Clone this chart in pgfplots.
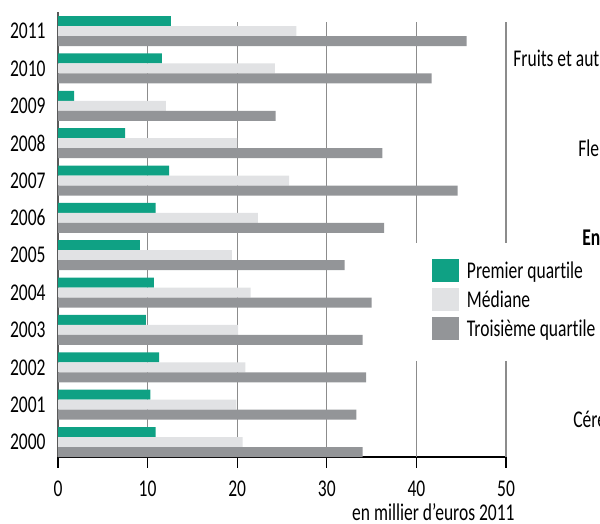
\documentclass[border=0pt]{standalone}
\usepackage{pgfplots}
\usepackage{pgfplotstable}
\pgfplotsset{compat=1.18}
\usepackage{fontspec}
\setmainfont[FakeStretch=0.73, Ligatures=NoCommon]{Carlito}

\definecolor{vert}{HTML}{0FA184}
\definecolor{gclair}{HTML}{E1E2E4}
\definecolor{gfonce}{HTML}{939598}
\definecolor{grille}{HTML}{8C8C8C}

% revenus par annee (milliers d'euros 2011)
\pgfplotstableread{
annee q1    med   q3
2000  10.9  20.6  34.0
2001  10.3  19.9  33.3
2002  11.3  20.9  34.4
2003  9.8   20.1  34.0
2004  10.7  21.5  35.0
2005  9.15  19.4  32.0
2006  10.9  22.3  36.4
2007  12.4  25.8  44.6
2008  7.5   20.0  36.2
2009  1.8   12.05 24.3
2010  11.6  24.2  41.7
2011  12.6  26.6  45.6
}\revenus

\begin{document}
\fontsize{12}{14}\selectfont
\begin{tikzpicture}
\useasboundingbox (0,0) rectangle (300pt,262pt);
\clip (0,0) rectangle (300pt,262pt);
\begin{axis}[
  at={(29pt,33.5pt)}, anchor=south west,
  scale only axis, width=224pt, height=222.5pt,
  xbar, bar width=5pt,
  xmin=0, xmax=50, ymin=1999.6, ymax=2011.51,
  axis x line=bottom, axis y line=left,
  x axis line style={-, black, line width=0.6pt},
  y axis line style={-, black!65, line width=0.6pt},
  xtick={0,10,...,50}, ytick={2000,2001,...,2011},
  tick align=outside, major tick length=5.5pt,
  x tick style={black, line width=0.6pt},
  y tick style={draw=none},
  /pgf/number format/assume math mode=true,
  y tick label style={/pgf/number format/1000 sep={}, inner sep=0pt, anchor=east, xshift=-0.5pt},
  x tick label style={inner sep=0pt, anchor=north, yshift=-6.5pt},
  xlabel={en millier d’euros 2011},
  xlabel style={at={(axis description cs:1.0201,-0.1438)}, anchor=base east, inner sep=0pt},
  legend style={at={(axis description cs:0.8348,0.4449)}, anchor=north west,
    draw=none, fill=none, inner sep=0pt, outer sep=0pt, row sep=3pt,
    cells={anchor=west}, nodes={inner sep=0pt, text height=7.7pt, text depth=0pt},
    /tikz/every odd column/.style={column sep=4pt}},
  legend image code/.code={\fill[#1] (0pt,-5.75pt) rectangle (13.5pt,5.75pt);},
  legend cell align=left,
  clip=false,
]
\draw[grille, line width=0.6pt] (axis cs:10,2011.24) -- (axis cs:10,1999.6);
\draw[grille, line width=0.6pt] (axis cs:20,2011.24) -- (axis cs:20,1999.6);
\draw[grille, line width=0.6pt] (axis cs:30,2011.24) -- (axis cs:30,1999.6);
\draw[grille, line width=0.6pt] (axis cs:40,2011.24) -- (axis cs:40,2005.33);
\draw[grille, line width=0.6pt] (axis cs:40,2002.17) -- (axis cs:40,1999.6);
\draw[grille, line width=0.6pt] (axis cs:50,2011.24) -- (axis cs:50,2005.33);
\draw[grille, line width=0.6pt] (axis cs:50,2002.17) -- (axis cs:50,1999.6);
\addplot[fill=vert, draw=none, bar shift=5pt] table[x=q1, y=annee] {\revenus};
\addplot[fill=gclair, draw=none, bar shift=0pt] table[x=med, y=annee] {\revenus};
\addplot[fill=gfonce, draw=none, bar shift=-5pt] table[x=q3, y=annee] {\revenus};
\legend{Premier quartile, Médiane, Troisième quartile}
\end{axis}
\node[anchor=base west, inner sep=0pt] at (256.5pt,228.5pt) {Fruits et autres};
\node[anchor=base west, inner sep=0pt] at (289pt,183.5pt) {Fleurs};
\node[anchor=base west, inner sep=0pt, font=\bfseries] at (291pt,139pt) {Ensemble};
\node[anchor=base west, inner sep=0pt] at (286.5pt,48pt) {Céréales};
\end{tikzpicture}
\end{document}
